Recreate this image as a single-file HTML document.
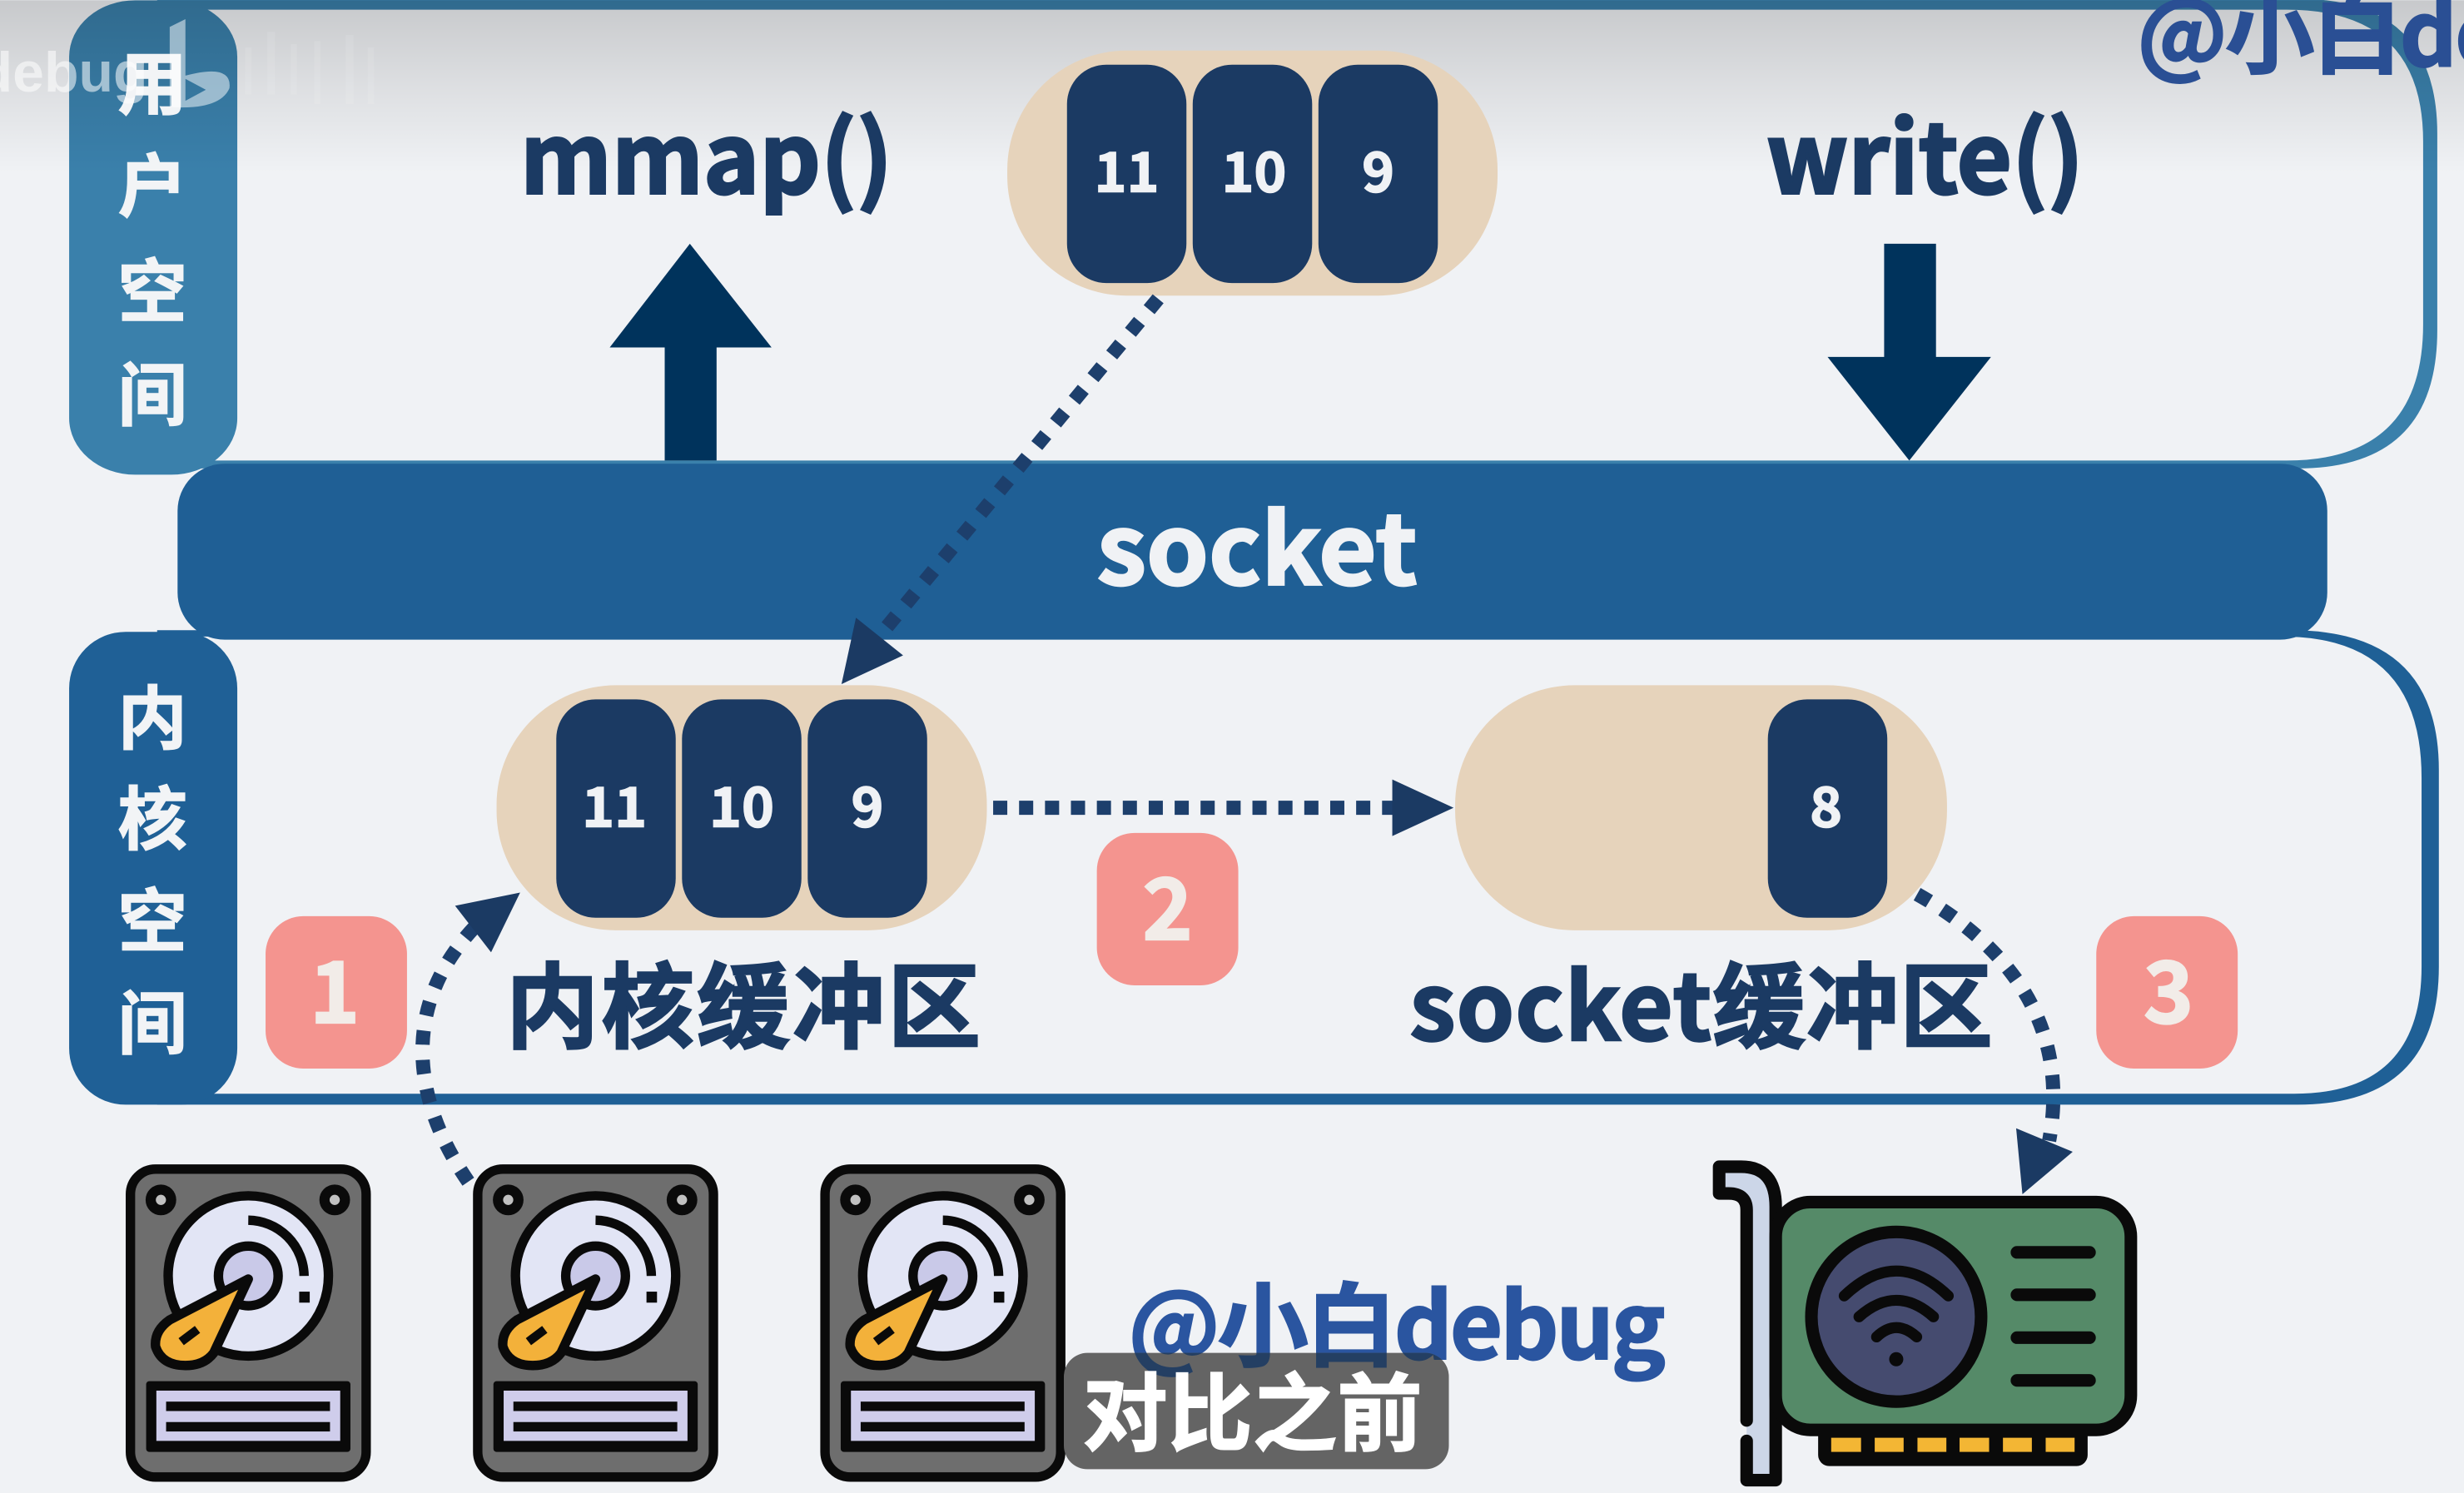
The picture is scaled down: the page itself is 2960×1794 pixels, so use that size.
<!DOCTYPE html>
<html><head><meta charset="utf-8"><style>
html,body{margin:0;padding:0;background:#f0f2f5;width:2960px;height:1794px;overflow:hidden}
svg{display:block}
text{font-family:"Liberation Sans","Noto Sans CJK SC",sans-serif;font-weight:700}
.n{font-family:"Noto Sans CJK SC","Liberation Sans",sans-serif;font-weight:700}
</style></head><body>
<svg width="2960" height="1794" viewBox="0 0 1568 950" xmlns="http://www.w3.org/2000/svg">
<defs>
<linearGradient id="top" x1="0" y1="0" x2="0" y2="1"><stop offset="0" stop-color="#000" stop-opacity=".17"/><stop offset=".5" stop-color="#000" stop-opacity=".08"/><stop offset="1" stop-color="#000" stop-opacity="0"/></linearGradient>
<clipPath id="capclip"><rect x="677" y="861" width="245" height="74" rx="15"/></clipPath>
<g id="disk">
<rect x="3" y="3" width="150" height="196" rx="16" fill="#6e6e6e" stroke="#0a0a0a" stroke-width="6"/>
<circle cx="22.4" cy="22.6" r="6.5" fill="#c0c0c0" stroke="#0a0a0a" stroke-width="6.5"/>
<circle cx="133" cy="22.6" r="6.5" fill="#c0c0c0" stroke="#0a0a0a" stroke-width="6.5"/>
<circle cx="78" cy="71" r="51" fill="#e2e5f5" stroke="#0a0a0a" stroke-width="6"/>
<path d="M78,35.5 A36,36 0 0 1 113.5,71" fill="none" stroke="#0a0a0a" stroke-width="6"/>
<rect x="110.4" y="81" width="6.7" height="7" fill="#0a0a0a"/>
<circle cx="78" cy="71" r="19" fill="#c9c9e8" stroke="#0a0a0a" stroke-width="6"/>
<path d="M78,73 L28,99 Q18,106 19,116 Q23,128 38,128 Q50,128 56,120 Z" fill="#f3b13a" stroke="#0a0a0a" stroke-width="6" stroke-linejoin="round"/>
<rect x="34" y="106.2" width="13" height="5.6" fill="#0a0a0a" transform="rotate(-37 40.4 109)"/>
<rect x="13" y="138" width="130" height="45" rx="2" fill="#0a0a0a"/>
<rect x="19.5" y="144" width="117" height="32" fill="#cfcdeb"/>
<rect x="25.7" y="151" width="104.3" height="6" fill="#0a0a0a"/>
<rect x="25.7" y="164" width="104.3" height="6" fill="#0a0a0a"/>
</g>
</defs>
<rect width="1568" height="950" fill="#f0f2f5"/>

<!-- frames -->
<path fill-rule="evenodd" fill="#3a80ab" d="M100,-1 H1462 Q1551,-1 1551,85 V210 Q1551,298 1462,298 H100 Z M100,6 V293 H1455 Q1542,293 1542,206 V90 Q1542,6 1455,6 Z"/>
<path fill-rule="evenodd" fill="#1f6096" d="M100,401 H1458 Q1552,401 1552,490 V615 Q1552,703 1462,703 H100 Z M100,405 V696 H1460 Q1541,696 1541,615 V495 Q1541,405 1452,405 Z"/>
<rect x="44" y="0" width="107" height="302" rx="42" ry="36" fill="#3a80ab"/>
<rect x="44" y="402" width="107" height="301" rx="36" fill="#1f6096"/>
<rect x="0" y="0" width="1568" height="110" fill="url(#top)"/>
<rect x="113" y="295" width="1368" height="112" rx="30" fill="#1f5f95"/>

<!-- tab labels -->
<g fill="#f2f4f6" font-size="44" text-anchor="middle" stroke="#f2f4f6" stroke-width=".8">
<text class="n" x="97" y="69">用</text>
<text class="n" x="97" y="134">户</text>
<text class="n" x="97" y="201">空</text>
<text class="n" x="97" y="267">间</text>
<text class="n" x="97" y="473">内</text>
<text class="n" x="97" y="537">核</text>
<text class="n" x="97" y="602">空</text>
<text class="n" x="97" y="667">间</text>
</g>

<!-- top-left logo watermark -->
<text x="94" y="58" text-anchor="end" font-size="36" fill="#fff" fill-opacity=".55" font-weight="400">debug</text>
<path d="M108,17 L118,12 V48 Q148,40 146,56 Q140,70 108,68 Z M118,50 V64 L131,57 Z" fill="#fff" fill-opacity=".5" fill-rule="evenodd"/>
<path d="M156,30h4v30h-4z M170,20h5v40h-5z M185,28h4v32h-4z M200,26h4v40h-4z M220,22h5v44h-5z M234,30h4v36h-4z" fill="#fff" fill-opacity=".1"/>

<!-- main labels -->
<g fill="#1b3a63" stroke="#1b3a63" stroke-width="1.6">
<text class="n" x="331" y="123" font-size="62" textLength="237" lengthAdjust="spacingAndGlyphs">mmap()</text>
<text class="n" x="1124" y="123" font-size="62" textLength="202" lengthAdjust="spacingAndGlyphs">write()</text>
</g>
<text class="n" x="698" y="372" font-size="62" fill="#f0f2f5" stroke="#f0f2f5" stroke-width="1.4" textLength="204" lengthAdjust="spacingAndGlyphs">socket</text>

<!-- up/down arrows -->
<path d="M439,155 L491,221 H456 V293 H423 V221 H388 Z" fill="#00335c"/>
<path d="M1199,155 H1232 V227 H1267 L1215,293 L1163,227 H1199 Z" fill="#00335c"/>

<!-- pills -->
<rect x="641" y="32" width="312" height="156" rx="76" fill="#e6d3bb"/>
<rect x="316" y="436" width="312" height="156" rx="76" fill="#e6d3bb"/>
<rect x="926" y="436" width="313" height="156" rx="76" fill="#e6d3bb"/>
<g fill="#1b3a63">
<rect x="679" y="41" width="76" height="139" rx="25"/>
<rect x="759" y="41" width="76" height="139" rx="25"/>
<rect x="839" y="41" width="76" height="139" rx="25"/>
<rect x="354" y="445" width="76" height="139" rx="25"/>
<rect x="434" y="445" width="76" height="139" rx="25"/>
<rect x="514" y="445" width="76" height="139" rx="25"/>
<rect x="1125" y="445" width="76" height="139" rx="25"/>
</g>
<g fill="#f0f2f5" stroke="#f0f2f5" stroke-width=".8" font-size="35" text-anchor="middle">
<text class="n" x="717" y="122">11</text>
<text class="n" x="798" y="122">10</text>
<text class="n" x="877" y="122">9</text>
<text class="n" x="391" y="526">11</text>
<text class="n" x="472" y="526">10</text>
<text class="n" x="552" y="526">9</text>
<text class="n" x="1162" y="526">8</text>
</g>

<g fill="#1b3a63" stroke="#1b3a63" stroke-width="1.3" font-size="59">
<text class="n" x="322" y="662" textLength="302">内核缓冲区</text>
<text class="n" x="897" y="662" textLength="371">socket缓冲区</text>
</g>

<!-- badges -->
<rect x="169" y="583" width="90" height="97" rx="24" fill="#f4948f"/>
<rect x="698" y="530" width="90" height="97" rx="24" fill="#f4948f"/>
<rect x="1334" y="583" width="90" height="97" rx="24" fill="#f4948f"/>
<g fill="#f2ece8" stroke="#f2ece8" stroke-width="1.2" font-size="54" text-anchor="middle">
<text class="n" x="213" y="651">1</text>
<text class="n" x="743" y="598">2</text>
<text class="n" x="1380" y="651">3</text>
</g>

<!-- dotted arrows -->
<g fill="none" stroke="#1d3f6c" stroke-width="9" stroke-dasharray="9 9.7">
<path d="M737,190 L561,403"/>
<path d="M632,514 H888" stroke-dasharray="9 7.5"/>
<path d="M298,752 C262,700 255,640 302,590"/>
<path d="M1220,569 C1275,600 1318,650 1304,726"/>
</g>
<g fill="#1b3a63">
<path d="M535.5,435.3 L544.7,393 L574.7,417 Z"/>
<path d="M886,496 L925,514 L886,532 Z"/>
<path d="M331,568 L289.6,576.4 L312.5,606 Z"/>
<path d="M1283,718 L1319,733 L1287,760 Z"/>
</g>

<!-- disks -->
<use href="#disk" x="80" y="741"/>
<use href="#disk" x="301" y="741"/>
<use href="#disk" x="522" y="741"/>

<!-- NIC -->
<path d="M1094,742.5 H1108 Q1130,742.5 1130,768 V942 H1111.5 V770 Q1111.5,759.5 1100,759.5 H1094 Z" fill="#ccd6e8"/>
<path d="M1111.5,904 V770 Q1111.5,759.5 1100,759.5 H1094 V742.5 H1108 Q1130,742.5 1130,768 V942 H1111.5 V917" fill="none" stroke="#0a0a0a" stroke-width="8" stroke-linecap="round" stroke-linejoin="round"/>
<rect x="1157" y="905" width="171.5" height="28" rx="7" fill="#0a0a0a"/>
<rect x="1130" y="765" width="226" height="145" rx="22" fill="#558a68" stroke="#0a0a0a" stroke-width="8"/>
<circle cx="1206.7" cy="838" r="54" fill="#454b6f" stroke="#0a0a0a" stroke-width="8"/>
<g fill="none" stroke="#0a0a0a" stroke-width="7" stroke-linecap="round">
<path d="M1173.6,824.7 Q1206.7,793 1239.8,824.7"/>
<path d="M1183,838 Q1206.7,817 1230.4,838"/>
<path d="M1194.2,850.8 Q1206.7,839 1219.7,850.8"/>
<path d="M1283.5,797 H1329.7 M1283.5,824 H1329.7 M1283.5,851.3 H1329.7 M1283.5,878.5 H1329.7" stroke-width="8"/>
</g>
<circle cx="1206.7" cy="865" r="4.5" fill="#0a0a0a"/>
<g fill="#f3b634">
<rect x="1165.3" y="915" width="19" height="9"/>
<rect x="1193" y="915" width="18.4" height="9"/>
<rect x="1220.2" y="915" width="18.4" height="9"/>
<rect x="1247" y="915" width="18.8" height="9"/>
<rect x="1274.6" y="915" width="18.4" height="9"/>
<rect x="1301.8" y="915" width="18.4" height="9"/>
</g>

<!-- watermarks -->
<text class="n" x="1360" y="42" font-size="57" fill="#2a4f94" stroke="#2a4f94" stroke-width="1" textLength="338">@小白debug</text>
<text class="n" x="718" y="865" font-size="58" fill="#2a55a0" stroke="#2a55a0" stroke-width="1" textLength="342">@小白debug</text>

<!-- caption -->
<rect x="677" y="861" width="245" height="74" rx="15" fill="#646464"/>
<g clip-path="url(#capclip)">
<text class="n" x="718" y="865" font-size="58" fill="#243f63" stroke="#243f63" stroke-width="1" textLength="342">@小白debug</text>
</g>
<text class="n" x="689" y="919" font-size="54" fill="#fff" stroke="#fff" stroke-width="1" textLength="216">对比之前</text>
</svg>
</body></html>
